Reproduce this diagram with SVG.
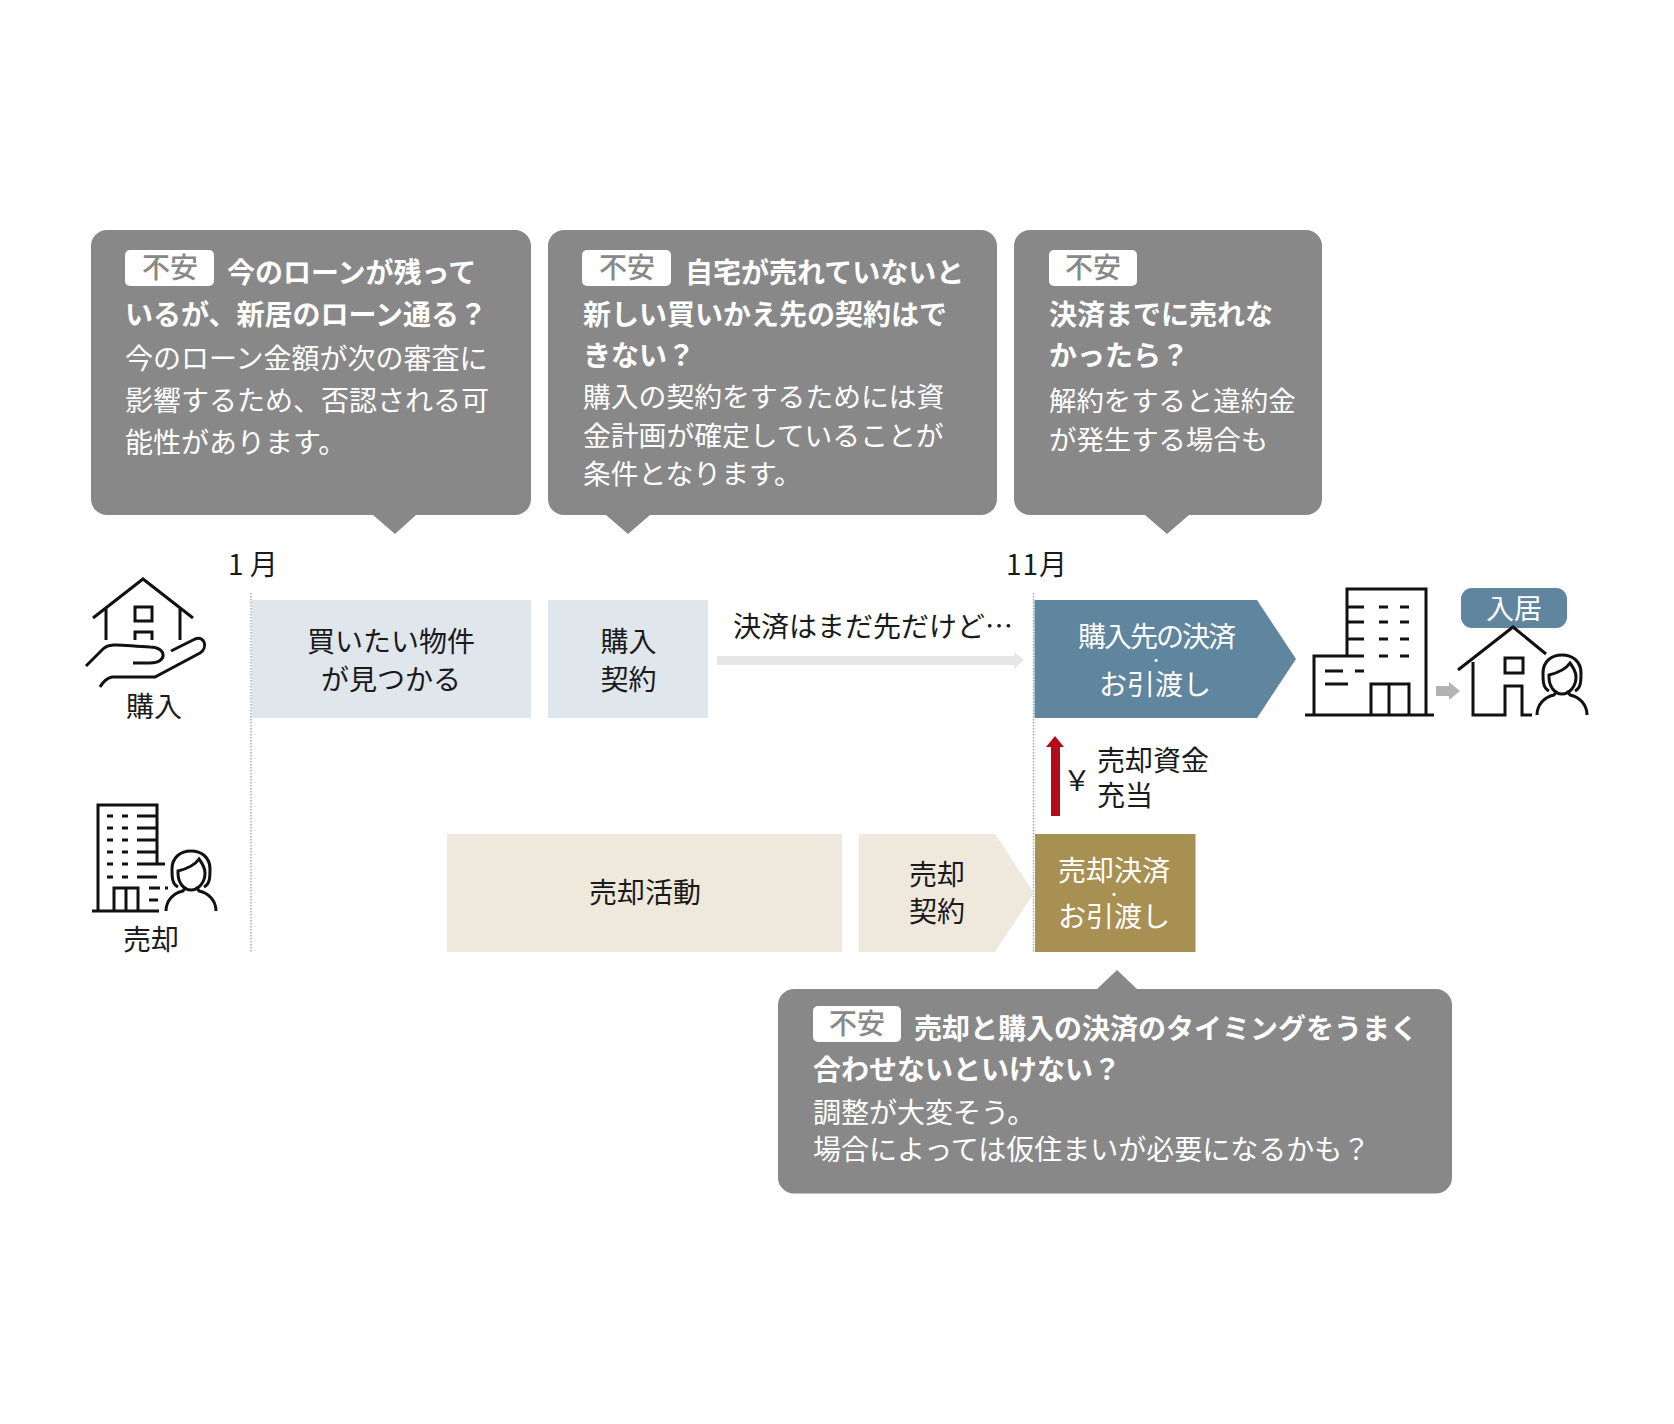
<svg xmlns="http://www.w3.org/2000/svg" width="1674" height="1424" viewBox="0 0 1674 1424">
<style>
text{font-family:"Noto Sans CJK JP","Noto Sans",sans-serif;font-size:28px;font-weight:400}
.d{fill:#1a1a1a}
.w{fill:#fff}
.t{fill:#fff;font-weight:700}
.m{text-anchor:middle}
.c{fill:#888}
.b{fill:#fff}
.bt{fill:#888;font-weight:500;text-anchor:middle}
.ic{fill:none;stroke:#111;stroke-width:3}
.dot{stroke:#aaa;stroke-width:1.5;stroke-dasharray:1.5 1.5;fill:none}
</style>
<defs>
<g id="person" class="ic">
<path d="M-13,-24C-19,-27 -19,-34 -19,-42C-19,-54 -10,-60 0,-60C10,-60 19,-54 19,-42C19,-34 19,-27 13,-24"/>
<path d="M-13,-40C-5,-42 4,-46 8,-52C11,-48 14,-44 14,-38C14,-28 7,-21 0,-21C-7,-21 -13,-28 -13,-38Z"/>
<path d="M-25,0C-25,-10 -18,-18 -8,-20L-5,-24M25,0C25,-10 18,-18 8,-20L5,-24"/>
</g>
</defs>
<rect width="1674" height="1424" fill="#fff"/>
<g id="timeline-lines">
<path class="dot" d="M251,593V952"/>
<path class="dot" d="M1033.500,593V952"/>
</g>
<g id="callout-1">
<path class="c" d="M107,230H515a16,16 0 0 1 16,16V499a16,16 0 0 1 -16,16H416L395,534L373,515H107a16,16 0 0 1 -16,-16V246a16,16 0 0 1 16,-16Z"/>
<rect class="b" x="125" y="250" width="89" height="36" rx="5"/>
<text class="bt" x="170" y="278">不安</text>
<text class="t" x="227" y="283">今のローンが残って</text>
<text class="t" x="125" y="325">いるが、新居のローン通る？</text>
<text class="w" x="125" y="369">今のローン金額が次の審査に</text>
<text class="w" x="125" y="411">影響するため、否認される可</text>
<text class="w" x="125" y="453">能性があります。</text>
</g>
<g id="callout-2">
<path class="c" d="M564,230H981a16,16 0 0 1 16,16V499a16,16 0 0 1 -16,16H650L628,534L606,515H564a16,16 0 0 1 -16,-16V246a16,16 0 0 1 16,-16Z"/>
<rect class="b" x="582" y="250" width="89" height="36" rx="5"/>
<text class="bt" x="627" y="278">不安</text>
<text class="t" x="685" y="283">自宅が売れていないと</text>
<text class="t" x="583" y="325">新しい買いかえ先の契約はで</text>
<text class="t" x="583" y="366">きない？</text>
<text class="w" x="583" y="407" style="font-size:27.800px">購入の契約をするためには資</text>
<text class="w" x="583" y="446" style="font-size:27.800px">金計画が確定していることが</text>
<text class="w" x="583" y="484" style="font-size:27.800px">条件となります。</text>
</g>
<g id="callout-3">
<path class="c" d="M1030,230H1306a16,16 0 0 1 16,16V499a16,16 0 0 1 -16,16H1189L1167,534L1145,515H1030a16,16 0 0 1 -16,-16V246a16,16 0 0 1 16,-16Z"/>
<rect class="b" x="1049" y="250" width="88" height="36" rx="5"/>
<text class="bt" x="1093" y="278">不安</text>
<text class="t" x="1049" y="325">決済までに売れな</text>
<text class="t" x="1049" y="366">かったら？</text>
<text class="w" x="1049" y="411" style="font-size:27.400px">解約をすると違約金</text>
<text class="w" x="1049" y="450" style="font-size:27.400px">が発生する場合も</text>
</g>
<g id="month-jan"><text class="d" x="228" y="575">1 月</text></g>
<g id="month-nov"><text class="d" x="1006" y="575" style="letter-spacing:1px">11月</text></g>
<g id="icon-buy">
<g class="ic">
<path d="M93,618L143,579L193,618M106,607V640M180,607V640"/>
<rect x="135" y="607" width="17" height="14"/>
<path d="M135,640V632H152V640"/>
<path d="M86,666L103,649C110,642 124,646 150,647C167,647 168,663 150,663H133"/>
<path d="M171,651L195,639C205,635 208,648 200,653L155,677H112C107,678 103,682 100,687"/>
</g>
<text class="d m" x="154" y="717">購入</text>
</g>
<g id="icon-sell">
<g class="ic">
<path d="M98,911V805H157V864M92,911H159M137,864H165"/>
<path d="M114,911V888H138V911M126,888V911"/>
<path d="M137,816H157M137,828H157M137,840H157M137,852H157M137,877H157M149,888H160M149,900H158"/>
<path d="M107,816H113M122,816H128M107,828H113M122,828H128M107,840H113M122,840H128M107,852H113M122,852H128M107,864H113M122,864H128M107,877H113M122,877H128M165,888H168"/>
</g>
<use href="#person" x="191" y="911"/>
<text class="d m" x="151" y="950">売却</text>
</g>
<g id="step-find">
<rect x="252" y="600" width="279" height="118" fill="#dfe6ec"/>
<text class="d m" x="391" y="652">買いたい物件</text>
<text class="d m" x="391" y="690">が見つかる</text>
</g>
<g id="step-buy-contract">
<rect x="548" y="600" width="160" height="118" fill="#dfe6ec"/>
<text class="d m" x="628.500" y="652">購入</text>
<text class="d m" x="628.500" y="690">契約</text>
</g>
<g id="note-wait"><text class="d" x="733" y="637">決済はまだ先だけど…</text></g>
<g id="step-buy-settle">
<path d="M1034.500,600H1257L1296,659L1257,718H1034.500Z" fill="#5f859f"/>
<text class="w m" x="1156" y="647" style="letter-spacing:-2px">購入先の決済</text>
<text class="w m" x="1156" y="665" style="font-size:14px">・</text>
<text class="w m" x="1155" y="695">お引渡し</text>
</g>
<g id="icon-building">
<g class="ic">
<path d="M1347,656V589H1426V715M1314,715V656H1364M1305,715H1434"/>
<path d="M1371,715V684H1409V715M1389,684V715"/>
<path d="M1348,607H1364M1379,607H1388M1400,607H1409M1348,622H1364M1379,622H1388M1400,622H1409M1348,639H1364M1379,639H1388M1400,639H1409M1379,656H1388M1400,656H1409"/>
<path d="M1325,671H1343M1355,671H1364M1325,684H1348"/>
</g>
</g>
<g id="tag-move-in">
<rect x="1461" y="588" width="106" height="40" rx="11" fill="#5f859f"/>
<text class="w m" x="1514" y="619">入居</text>
</g>
<g id="icon-house">
<g class="ic">
<path d="M1458,670L1513,627L1546,654M1473,662V715H1505V686H1522V715H1532"/>
<rect x="1505" y="658" width="18" height="15"/>
</g>
<use href="#person" x="1562" y="715"/>
</g>
<g id="step-sell">
<rect x="447" y="834" width="395" height="118" fill="#efe9dd"/>
<text class="d m" x="645" y="903">売却活動</text>
</g>
<g id="step-sell-contract">
<path d="M859,834H995L1034,893L995,952H859Z" fill="#efe9dd"/>
<text class="d m" x="937" y="885">売却</text>
<text class="d m" x="937" y="922">契約</text>
</g>
<g id="step-sell-settle">
<rect x="1035" y="834" width="160.500" height="118" fill="#a88f52"/>
<text class="w m" x="1114" y="881">売却決済</text>
<text class="w m" x="1114" y="899" style="font-size:14px">・</text>
<text class="w m" x="1114" y="927">お引渡し</text>
</g>
<g id="note-funds">
<text class="d" x="1063" y="791">￥</text>
<text class="d" x="1097" y="771">売却資金</text>
<text class="d" x="1097" y="806">充当</text>
</g>
<g id="callout-4">
<path class="c" d="M794,989H1097L1117,970L1137,989H1436a16,16 0 0 1 16,16V1177.500a16,16 0 0 1 -16,16H794a16,16 0 0 1 -16,-16V1005a16,16 0 0 1 16,-16Z"/>
<rect class="b" x="813" y="1006" width="88" height="36" rx="5"/>
<text class="bt" x="857" y="1034">不安</text>
<text class="t" x="914" y="1039">売却と購入の決済のタイミングをうまく</text>
<text class="t" x="813" y="1080">合わせないといけない？</text>
<text class="w" x="813" y="1123">調整が大変そう。</text>
<text class="w" x="813" y="1160">場合によっては仮住まいが必要になるかも？</text>
</g>
<g id="connectors">
<path d="M717,656H1014V652L1024,660L1014,669V665H717Z" fill="#e6e6e6"/>
<path d="M1436,686H1449V682L1460,691L1449,700V696H1436Z" fill="#b3b3b3"/>
<path d="M1051,816V747H1046L1055,736L1064,747H1060V816Z" fill="#b20c1c"/>
</g>
</svg>
